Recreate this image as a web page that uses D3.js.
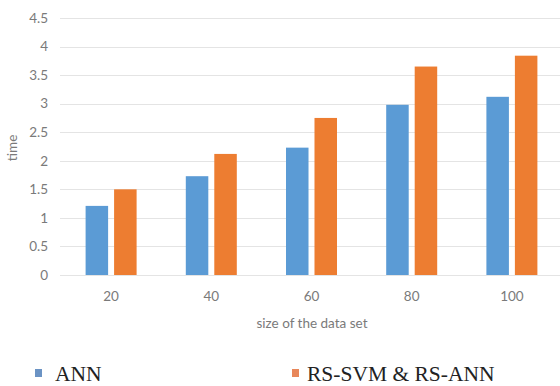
<!DOCTYPE html>
<html>
<head>
<meta charset="utf-8">
<script src="https://cdn.jsdelivr.net/npm/d3@7"></script>
<style>
  html, body { margin: 0; padding: 0; background: #fff; }
  svg { display: block; }
</style>
</head>
<body>
<svg id="chart" width="560" height="386"></svg>
<script>
// Training time by data set size
const categories = ["20", "40", "60", "80", "100"];
const seriesNames = ["ANN", "RS-SVM & RS-ANN"];
const annValues = [1.21, 1.73, 2.23, 2.98, 3.12];
const rsValues = [1.50, 2.12, 2.75, 3.65, 3.84];
const yTicks = [0, 0.5, 1, 1.5, 2, 2.5, 3, 3.5, 4, 4.5];
const colors = ["#5b9bd5", "#ed7d31"];
const legendColors = ["#6b93c4", "#e8875a"];

const series = [annValues, rsValues];

const svg = d3.select("#chart");
const plot = { left: 61, right: 562, top: 18, bottom: 275 };

const x = d3.scaleBand().domain(categories).range([plot.left, plot.right]).padding(0);
const groupWidth = 51;
const xInner = d3.scaleBand().domain(seriesNames).range([0, groupWidth]).paddingInner(0.21);
const y = d3.scaleLinear().domain([0, 4.5]).range([plot.bottom, plot.top]);

// Horizontal gridlines
svg.append("g")
  .selectAll("line")
  .data(yTicks)
  .join("line")
  .attr("x1", plot.left - 1)
  .attr("x2", 560)
  .attr("y1", d => Math.round(y(d)) + 0.5)
  .attr("y2", d => Math.round(y(d)) + 0.5)
  .attr("stroke", "#e4e4e4")
  .attr("stroke-width", 1.2);

// Y axis labels
const yAxis = d3.axisLeft(y).tickValues(yTicks).tickSize(0).tickPadding(0)
  .tickFormat(d => String(d));
svg.append("g")
  .attr("transform", `translate(${plot.left - 13},0)`)
  .call(yAxis)
  .call(g => g.select(".domain").remove())
  .call(g => g.selectAll("text")
    .attr("fill", "#7a7a7a")
    .style("font-family", "Lato, 'Open Sans', sans-serif")
    .style("font-size", "13.5px"));

// X axis labels
const xAxis = d3.axisBottom(x).tickSize(0).tickPadding(0);
svg.append("g")
  .attr("transform", `translate(0,${plot.bottom + 16})`)
  .call(xAxis)
  .call(g => g.select(".domain").remove())
  .call(g => g.selectAll("text")
    .attr("fill", "#7a7a7a")
    .style("font-family", "Lato, 'Open Sans', sans-serif")
    .style("font-size", "13.5px"));

// Bars
const groupOffset = (x.bandwidth() - groupWidth) / 2;
const groups = svg.append("g")
  .selectAll("g")
  .data(categories)
  .join("g")
  .attr("transform", d => `translate(${x(d) + groupOffset},0)`);

groups.selectAll("rect")
  .data((d, i) => seriesNames.map((name, s) => ({ name, s, value: series[s][i] })))
  .join("rect")
  .attr("x", d => xInner(d.name))
  .attr("width", xInner.bandwidth())
  .attr("y", d => y(d.value))
  .attr("height", d => y(0) - y(d.value))
  .attr("fill", d => colors[d.s]);

// Axis titles
svg.append("text")
  .attr("x", 312)
  .attr("y", 328)
  .attr("text-anchor", "middle")
  .attr("fill", "#7a7a7a")
  .style("font-family", "Lato, 'Open Sans', sans-serif")
  .style("font-size", "13.5px")
  .text("size of the data set");

svg.append("text")
  .attr("transform", "translate(17,148) rotate(-90)")
  .attr("text-anchor", "middle")
  .attr("fill", "#7a7a7a")
  .style("font-family", "Lato, 'Open Sans', sans-serif")
  .style("font-size", "13.5px")
  .text("time");

// Legend
const legendItems = [
  { name: seriesNames[0], mx: 35, tx: 55 },
  { name: seriesNames[1], mx: 292, tx: 307 }
];
const legend = svg.append("g")
  .selectAll("g")
  .data(legendItems)
  .join("g");
legend.append("rect")
  .attr("x", d => d.mx)
  .attr("y", 369)
  .attr("width", 7)
  .attr("height", 8)
  .attr("fill", (d, i) => legendColors[i]);
legend.append("text")
  .attr("x", d => d.tx)
  .attr("y", 381)
  .attr("fill", "#222")
  .style("font-family", "'Liberation Serif', 'Times New Roman', serif")
  .style("font-size", "21.5px")
  .text(d => d.name);
</script>
</body>
</html>
